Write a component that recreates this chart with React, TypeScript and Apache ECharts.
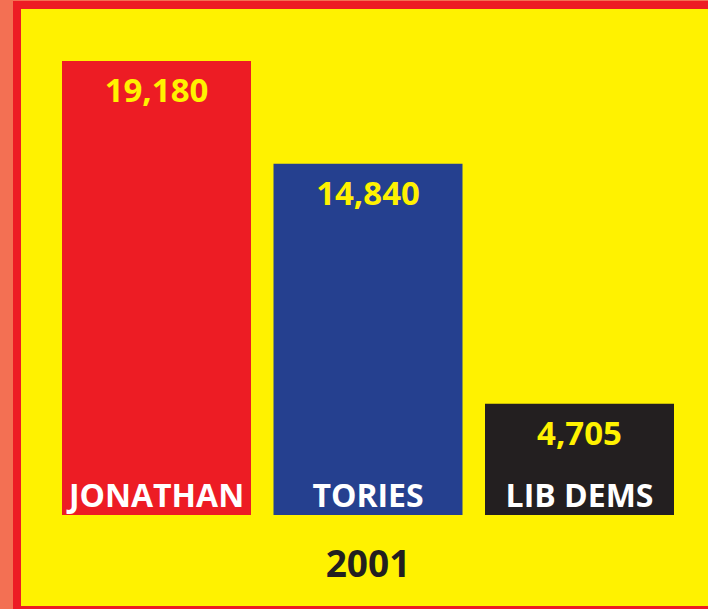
import React, { useEffect, useRef } from "react";
import * as echarts from "echarts";

const categories = ["JONATHAN", "TORIES", "LIB DEMS"];
const votes = [19180, 14840, 4705];
const barColors = ["#ed1c24", "#25408f", "#231f20"];
const yearLabel = "2001";

export default function App() {
  const ref = useRef<HTMLDivElement>(null);
  useEffect(() => {
    document.body.style.margin = "0";
    const chart = echarts.init(ref.current!, null, { renderer: "svg" });
    const font = "'Open Sans', 'Noto Sans', sans-serif";
    chart.setOption({
      animation: false,
      backgroundColor: "#f37053",
      graphic: [
        { type: "rect", z: -10, shape: { x: 13, y: 1, width: 695, height: 608 }, style: { fill: "#ed1c24" } },
        { type: "rect", z: -9, shape: { x: 21, y: 9, width: 687, height: 597 }, style: { fill: "#fff200" } },
      ],
      grid: { left: 50.75, right: 22.75, top: 61, bottom: 94 },
      xAxis: {
        type: "category",
        data: categories,
        z: 10,
        axisLine: { show: false },
        axisTick: { show: false },
        axisLabel: {
          interval: 0,
          margin: -37,
          color: "#ffffff",
          fontFamily: font,
          fontWeight: "bold",
          fontSize: 32,
        },
        name: yearLabel,
        nameLocation: "middle",
        nameGap: 29,
        nameTextStyle: { color: "#231f20", fontFamily: font, fontWeight: "bold", fontSize: 37 },
      },
      yAxis: { type: "value", min: 0, max: 19180, show: false, splitLine: { show: false } },
      series: [
        {
          type: "bar",
          barWidth: 189,
          data: votes.map((v, i) => ({ value: v, itemStyle: { color: barColors[i] } })),
          label: {
            show: true,
            position: "insideTop",
            distance: 12,
            color: "#fff200",
            fontFamily: font,
            fontWeight: "bold",
            fontSize: 33,
            formatter: (p: any) => Number(p.value).toLocaleString("en-GB"),
          },
        },
      ],
    });
    return () => chart.dispose();
  }, []);
  return <div ref={ref} style={{ position: "fixed", left: 0, top: 0, width: 708, height: 609 }} />;
}
